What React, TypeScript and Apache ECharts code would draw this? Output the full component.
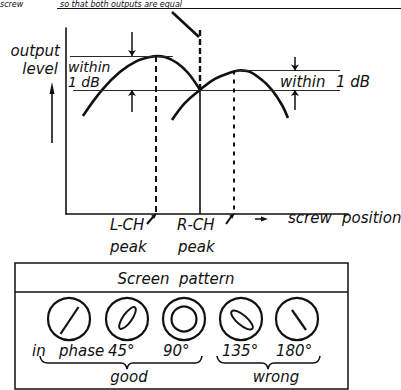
import React, { useEffect, useRef } from "react";
import * as echarts from "echarts";

// ---- data (arbitrary units: screw position 0..100, output level 0..100) ----
const leftCurveX = [6.0, 12.8, 19.1, 25.2, 29.8, 32.3, 35.1, 39.4, 43.3, 47.5];
const leftCurveY = [52.7, 66.7, 76.3, 82.3, 84.4, 84.9, 84.4, 81.2, 75.8, 66.7];
const rightCurveX = [37.6, 42.2, 47.5, 52.8, 58.9, 61.7, 64.2, 69.5, 73.0, 76.6, 78.7];
const rightCurveY = [50.5, 59.7, 66.7, 72.6, 76.3, 77.2, 76.9, 72.0, 66.7, 58.6, 51.6];

const peakPositions = [31.9, 59.6]; // L-CH peak, R-CH peak (screw position)
const peakLevels = [84.9, 77.2]; // L-CH, R-CH peak output level
const crossPoint = [47.5, 66.7]; // where the two curves cross
const screwTop = 98.9; // top of the adjusted-screw marker
const levelLineSpans = [
  [1.4, 37.9],
  [59.2, 97.2],
];
const crossLineSpan = [2.5, 97.2];
const dimArrowX = [23.4, 81.2];
const dimArrowOuter = [
  [97.8, 54.8],
  [84.4, 55.9],
];

const patternLabels = ["in", "phase", "45°", "90°", "135°", "180°"];
const groupLabels = ["good", "wrong"];

const INK = "#111";
const FONT = "'DejaVu Sans', 'Liberation Sans', sans-serif";

const BRACE_GOOD =
  "M40,356 Q41,363 48,363 L121,363 Q126,363 127,369 Q128,363 133,363 L195,363 Q201,363 202,356";
const BRACE_WRONG =
  "M217,356 Q218,363 225,363 L262,363 Q267,363 268,369 Q269,363 274,363 L313,363 Q319,363 320,356";

function txt(text: string, x: number, y: number, align = "left", size = 15, va = "middle") {
  return {
    type: "text",
    x,
    y,
    silent: true,
    style: {
      text,
      font: `italic ${size}px ${FONT}`,
      fill: INK,
      align,
      verticalAlign: va,
      textAlign: align,
      textVerticalAlign: va,
    },
  };
}

function seg(x1: number, y1: number, x2: number, y2: number, w = 1.5) {
  return {
    type: "line",
    silent: true,
    shape: { x1, y1, x2, y2 },
    style: { stroke: INK, lineWidth: w },
  };
}

function head(tipX: number, tipY: number, angle: number, len = 8, half = 3) {
  const bx = tipX - Math.cos(angle) * len;
  const by = tipY - Math.sin(angle) * len;
  const px = -Math.sin(angle) * half;
  const py = Math.cos(angle) * half;
  return {
    type: "polygon",
    silent: true,
    shape: {
      points: [
        [tipX, tipY],
        [bx + px, by + py],
        [bx - px, by - py],
      ],
    },
    style: { fill: INK },
  };
}

export default function App() {
  const ref = useRef<HTMLDivElement>(null);

  useEffect(() => {
    document.body.style.margin = "0";
    const el = ref.current!;
    echarts.graphic.registerShape("braceGood", echarts.graphic.extendPath(BRACE_GOOD, {}));
    echarts.graphic.registerShape("braceWrong", echarts.graphic.extendPath(BRACE_WRONG, {}));
    const chart = echarts.init(el, null, { renderer: "svg" });

    const lineStyleThin = { color: "#2a2a2a", width: 1.1, type: "solid" };

    const circleCenters = [69, 127, 184, 241, 297];
    const cy = 319;
    const R = 21;

    const graphics: any[] = [
      // heading at top
      txt("screw", 0, 0, "left", 8, "top"),
      txt("so that both outputs are equal", 60, 0, "left", 8, "top"),
      seg(57, 8.5, 401, 8.5, 1.2),
      // pointer to adjusted screw
      seg(172, 12, 199, 37, 2.6),
      // y-axis arrow
      seg(52, 143, 52, 92, 1.6),
      head(52, 82, -Math.PI / 2, 12, 2.5),
      // axis titles
      txt("output", 60, 51, "right"),
      txt("level", 58, 69, "right"),
      txt("within", 68, 66.5, "left", 14),
      txt("1 dB", 68, 82, "left", 14),
      txt("within", 280, 82),
      txt("1 dB", 336, 82),
      // peak labels
      txt("L-CH", 110, 225),
      txt("peak", 110, 247),
      txt("R-CH", 177, 225),
      txt("peak", 178, 247),
      seg(147, 224, 153, 217, 2),
      head(157, 213, -Math.PI / 4, 6, 2.2),
      seg(226, 224, 231, 217, 2),
      head(235, 213, -Math.PI / 4, 6, 2.2),
      // screw position
      seg(255, 219, 262, 219, 1.5),
      head(268, 219, 0, 7, 2.5),
      txt("screw", 288, 218),
      txt("position", 342, 218),
      // screen pattern box
      {
        type: "rect",
        silent: true,
        shape: { x: 15, y: 263, width: 333, height: 126 },
        style: { fill: "none", stroke: INK, lineWidth: 1.5 },
      },
      seg(15, 292, 348, 292, 1.5),
      txt("Screen  pattern", 176, 279, "center"),
    ];

    circleCenters.forEach((cx) => {
      graphics.push({
        type: "circle",
        silent: true,
        shape: { cx, cy, r: R },
        style: { fill: "none", stroke: INK, lineWidth: 2.2 },
      });
    });
    graphics.push(seg(circleCenters[0] - 8.5, cy + 15, circleCenters[0] + 9.5, cy - 12, 2.2));
    graphics.push({
      type: "ellipse",
      silent: true,
      x: circleCenters[1] + 0.5,
      y: cy - 1,
      rotation: (55 * Math.PI) / 180,
      shape: { cx: 0, cy: 0, rx: 13, ry: 4.5 },
      style: { fill: "none", stroke: INK, lineWidth: 1.9 },
    });
    graphics.push({
      type: "circle",
      silent: true,
      shape: { cx: circleCenters[2], cy, r: 12.5 },
      style: { fill: "none", stroke: INK, lineWidth: 2.2 },
    });
    graphics.push({
      type: "ellipse",
      silent: true,
      x: circleCenters[3] + 1,
      y: cy + 1,
      rotation: (-40 * Math.PI) / 180,
      shape: { cx: 0, cy: 0, rx: 13.5, ry: 5 },
      style: { fill: "none", stroke: INK, lineWidth: 1.9 },
    });
    graphics.push(seg(circleCenters[4] - 5, cy - 9, circleCenters[4] + 9, cy + 11, 2.2));

    const labelXs = [32, 59, 108, 163, 222, 276];
    patternLabels.forEach((l, i) => graphics.push(txt(l, labelXs[i], 351)));
    graphics.push({
      type: "braceGood",
      silent: true,
      style: { fill: "none", stroke: INK, lineWidth: 1.6 },
    });
    graphics.push({
      type: "braceWrong",
      silent: true,
      style: { fill: "none", stroke: INK, lineWidth: 1.6 },
    });
    graphics.push(txt(groupLabels[0], 129, 377, "center"));
    graphics.push(txt(groupLabels[1], 276, 377, "center"));

    const leftData = leftCurveX.map((x, i) => [x, leftCurveY[i]]);
    const rightData = rightCurveX.map((x, i) => [x, rightCurveY[i]]);

    const option: any = {
      animation: false,
      backgroundColor: "#fff",
      grid: { left: 66, top: 28, width: 282, height: 186, containLabel: false },
      xAxis: {
        type: "value",
        min: 0,
        max: 100,
        axisLine: { show: true, onZero: false, lineStyle: { color: INK, width: 1.6 } },
        axisTick: { show: false },
        axisLabel: { show: false },
        splitLine: { show: false },
      },
      yAxis: {
        type: "value",
        min: 0,
        max: 100,
        axisLine: { show: true, onZero: false, lineStyle: { color: INK, width: 1.6 } },
        axisTick: { show: false },
        axisLabel: { show: false },
        splitLine: { show: false },
      },
      series: [
        {
          name: "L-CH",
          type: "line",
          data: leftData,
          smooth: 0.4,
          showSymbol: false,
          symbol: "none",
          silent: true,
          lineStyle: { color: INK, width: 2.6 },
          markLine: {
            silent: true,
            symbol: "none",
            label: { show: false },
            lineStyle: lineStyleThin,
            data: [
              [
                { coord: [levelLineSpans[0][0], peakLevels[0]] },
                { coord: [levelLineSpans[0][1], peakLevels[0]] },
              ],
              [
                { coord: [levelLineSpans[1][0], peakLevels[1]] },
                { coord: [levelLineSpans[1][1], peakLevels[1]] },
              ],
              [
                { coord: [crossLineSpan[0], crossPoint[1]] },
                { coord: [crossLineSpan[1], crossPoint[1]] },
              ],
              [
                {
                  coord: [peakPositions[0], peakLevels[0]],
                  lineStyle: { color: INK, width: 2, type: [6, 4] },
                },
                { coord: [peakPositions[0], 0] },
              ],
              [
                {
                  coord: [peakPositions[1], peakLevels[1]],
                  lineStyle: { color: INK, width: 2, type: [4, 5] },
                },
                { coord: [peakPositions[1], 0] },
              ],
              [
                {
                  coord: [crossPoint[0], screwTop],
                  lineStyle: { color: INK, width: 2.4, type: [6, 3] },
                },
                { coord: [crossPoint[0], crossPoint[1]] },
              ],
              [
                {
                  coord: [crossPoint[0], crossPoint[1]],
                  lineStyle: { color: INK, width: 1.6, type: "solid" },
                },
                { coord: [crossPoint[0], 0] },
              ],
            ],
          },
        },
        {
          name: "R-CH",
          type: "line",
          data: rightData,
          smooth: 0.4,
          showSymbol: false,
          symbol: "none",
          silent: true,
          lineStyle: { color: INK, width: 2.6 },
        },
        {
          name: "within 1 dB",
          type: "line",
          data: [],
          silent: true,
          markLine: {
            silent: true,
            symbol: ["none", "arrow"],
            symbolSize: 6,
            label: { show: false },
            lineStyle: { color: INK, width: 1.5, type: "solid" },
            data: [
              [
                { coord: [dimArrowX[0], dimArrowOuter[0][0]] },
                { coord: [dimArrowX[0], peakLevels[0]] },
              ],
              [
                { coord: [dimArrowX[0], dimArrowOuter[0][1]] },
                { coord: [dimArrowX[0], crossPoint[1]] },
              ],
              [
                { coord: [dimArrowX[1], dimArrowOuter[1][0]] },
                { coord: [dimArrowX[1], peakLevels[1]] },
              ],
              [
                { coord: [dimArrowX[1], dimArrowOuter[1][1]] },
                { coord: [dimArrowX[1], crossPoint[1]] },
              ],
            ],
          },
        },
      ],
      graphic: { elements: graphics },
    };

    chart.setOption(option);
    return () => chart.dispose();
  }, []);

  return (
    <div
      ref={ref}
      style={{ width: 401, height: 390, position: "absolute", left: 0, top: 0, background: "#fff" }}
    />
  );
}
